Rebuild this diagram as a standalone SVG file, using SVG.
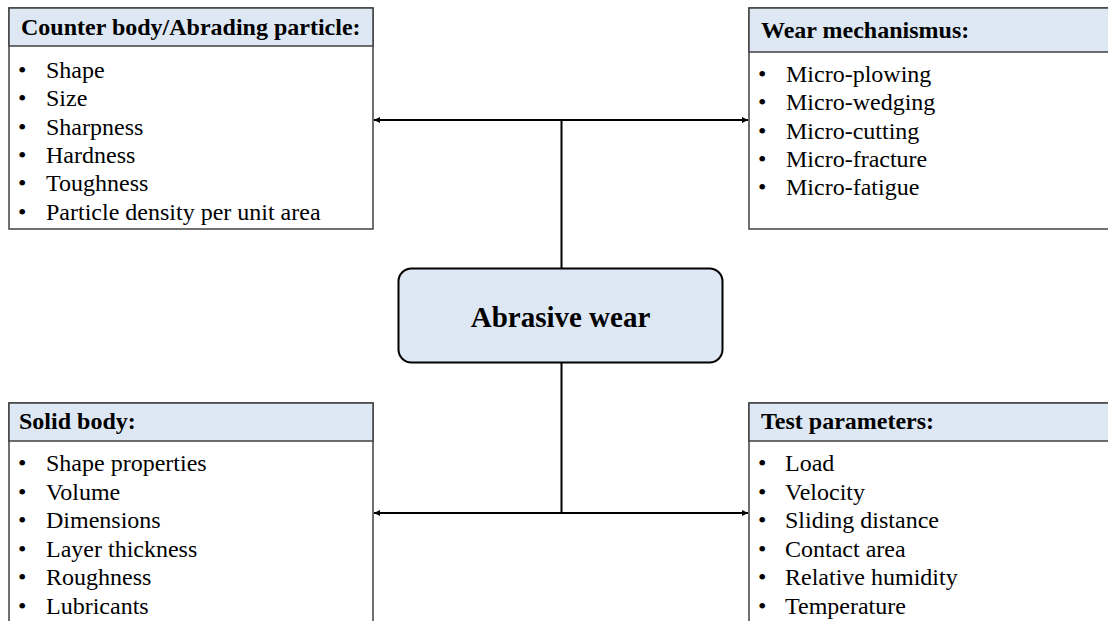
<svg xmlns="http://www.w3.org/2000/svg" width="1108" height="621" viewBox="0 0 1108 621">
<defs>
<style>
.box{fill:#ffffff;stroke:#404040;stroke-width:1.5}
.hdr{fill:#dde8f4;stroke:#404040;stroke-width:1.5}
.h{font-family:"Liberation Serif","Times New Roman",serif;font-weight:bold;font-size:24px;fill:#000}
.t{font-family:"Liberation Serif","Times New Roman",serif;font-size:24px;fill:#000}
.c{font-family:"Liberation Serif","Times New Roman",serif;font-weight:bold;font-size:29px;fill:#000}
.ln{stroke:#000;stroke-width:2;fill:none}
</style>
<marker id="arr" viewBox="0 0 10 10" refX="10" refY="5" markerWidth="8" markerHeight="6" markerUnits="userSpaceOnUse" orient="auto-start-reverse">
<path d="M0,0 L10,5 L0,10 z" fill="#000"/>
</marker>
</defs>
<rect width="1108" height="621" fill="#ffffff"/>
<g id="connectors">
<line class="ln" x1="374" y1="120" x2="748" y2="120" marker-start="url(#arr)" marker-end="url(#arr)"/>
<line class="ln" x1="561.5" y1="120" x2="561.5" y2="269"/>
<line class="ln" x1="561.5" y1="363" x2="561.5" y2="513"/>
<line class="ln" x1="374" y1="513" x2="748" y2="513" marker-start="url(#arr)" marker-end="url(#arr)"/>
</g>
<g id="node-counter">
<rect class="box" x="9" y="8" width="364" height="221"/>
<rect class="hdr" x="9" y="8" width="364" height="38"/>
<text class="h" x="21" y="35">Counter body/Abrading particle:</text>
<g class="t">
<text x="18" y="78">•</text><text x="46" y="78">Shape</text>
<text x="18" y="106.3">•</text><text x="46" y="106.3">Size</text>
<text x="18" y="134.6">•</text><text x="46" y="134.6">Sharpness</text>
<text x="18" y="162.9">•</text><text x="46" y="162.9">Hardness</text>
<text x="18" y="191.2">•</text><text x="46" y="191.2">Toughness</text>
<text x="18" y="219.5">•</text><text x="46" y="219.5">Particle density per unit area</text>
</g>
</g>
<g id="node-mechanism">
<rect class="box" x="749" y="8" width="370" height="221"/>
<rect class="hdr" x="749" y="8" width="370" height="44"/>
<text class="h" x="761" y="38">Wear mechanismus:</text>
<g class="t">
<text x="758" y="82">•</text><text x="786" y="82">Micro-plowing</text>
<text x="758" y="110.3">•</text><text x="786" y="110.3">Micro-wedging</text>
<text x="758" y="138.6">•</text><text x="786" y="138.6">Micro-cutting</text>
<text x="758" y="166.9">•</text><text x="786" y="166.9">Micro-fracture</text>
<text x="758" y="195.2">•</text><text x="786" y="195.2">Micro-fatigue</text>
</g>
</g>
<g id="node-center">
<rect x="398.5" y="268.5" width="324" height="94" rx="13" ry="13" fill="#dde8f4" stroke="#000" stroke-width="2"/>
<text class="c" x="560.5" y="327" text-anchor="middle">Abrasive wear</text>
</g>
<g id="node-solid">
<rect class="box" x="9" y="403" width="364" height="230"/>
<rect class="hdr" x="9" y="403" width="364" height="38"/>
<text class="h" x="19" y="429">Solid body:</text>
<g class="t">
<text x="18" y="471">•</text><text x="46" y="471">Shape properties</text>
<text x="18" y="499.5">•</text><text x="46" y="499.5">Volume</text>
<text x="18" y="528">•</text><text x="46" y="528">Dimensions</text>
<text x="18" y="556.5">•</text><text x="46" y="556.5">Layer thickness</text>
<text x="18" y="585">•</text><text x="46" y="585">Roughness</text>
<text x="18" y="613.5">•</text><text x="46" y="613.5">Lubricants</text>
</g>
</g>
<g id="node-test">
<rect class="box" x="749" y="403" width="370" height="230"/>
<rect class="hdr" x="749" y="403" width="370" height="38"/>
<text class="h" x="761" y="429">Test parameters:</text>
<g class="t">
<text x="758" y="471">•</text><text x="785" y="471">Load</text>
<text x="758" y="499.5">•</text><text x="785" y="499.5">Velocity</text>
<text x="758" y="528">•</text><text x="785" y="528">Sliding distance</text>
<text x="758" y="556.5">•</text><text x="785" y="556.5">Contact area</text>
<text x="758" y="585">•</text><text x="785" y="585">Relative humidity</text>
<text x="758" y="613.5">•</text><text x="785" y="613.5">Temperature</text>
</g>
</g>
</svg>
